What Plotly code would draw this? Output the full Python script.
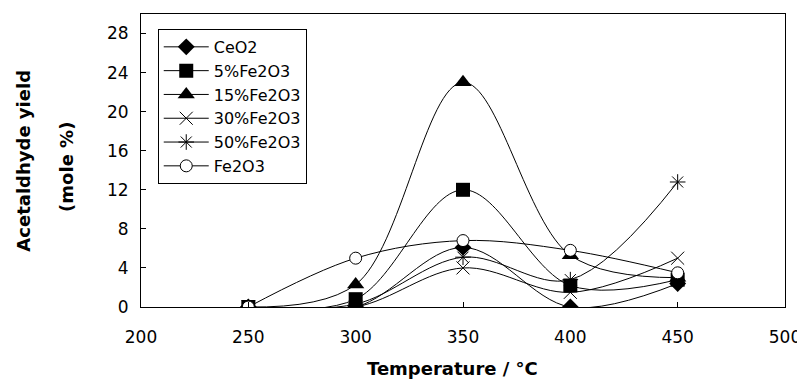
import plotly.graph_objects as go

temperature = [250, 300, 350, 400, 450]
series_names = ["CeO2", "5%Fe2O3", "15%Fe2O3", "30%Fe2O3", "50%Fe2O3", "Fe2O3"]
ceo2 = [0, 0, 6.1, 0, 2.4]
fe5 = [0, 0.8, 12.0, 2.2, 2.8]
fe15 = [0, 2.3, 23.0, 5.3, 3.0]
fe30 = [0, 0, 4.0, 1.5, 5.0]
fe50 = [0, 0.3, 5.1, 2.8, 12.8]
fe2o3 = [0, 5.0, 6.8, 5.8, 3.5]
x_ticks = [200, 250, 300, 350, 400, 450, 500]
y_ticks = [0, 4, 8, 12, 16, 20, 24, 28]

values = [ceo2, fe5, fe15, fe30, fe50, fe2o3]
markers = [
    dict(symbol="diamond", size=13, color="black"),
    dict(symbol="square", size=14, color="black"),
    dict(symbol="triangle-up", size=15, color="black"),
    dict(symbol="x-thin-open", size=13, color="black", line=dict(width=1, color="black")),
    dict(symbol="asterisk-open", size=13, color="black", line=dict(width=1, color="black")),
    dict(symbol="circle", size=12, color="white", line=dict(width=1, color="black")),
]

fig = go.Figure()
for name, vals, mk in zip(series_names, values, markers):
    fig.add_trace(go.Scatter(
        x=temperature, y=vals, name=name, mode="lines+markers",
        line=dict(color="black", width=1, shape="spline", smoothing=1.0),
        marker=mk,
    ))

# page body has an 8px margin, so the figure is drawn 8px in from the corner
tickfont = dict(family="DejaVu Sans", size=17, color="black")
fig.update_layout(
    width=797, height=373,
    margin=dict(l=133, r=20, t=6, b=74, autoexpand=False),
    paper_bgcolor="white", plot_bgcolor="white",
    showlegend=True,
    legend=dict(
        x=0.026, y=0.949, xanchor="left", yanchor="top",
        bordercolor="black", borderwidth=1, bgcolor="white",
        font=dict(family="DejaVu Sans", size=16, color="black"),
        tracegroupgap=0, itemwidth=45,
    ),
    xaxis=dict(
        range=[200, 500], tickmode="array", tickvals=x_ticks,
        ticks="inside", ticklen=5, tickcolor="black",
        showline=True, linecolor="black", linewidth=1, mirror=True,
        showgrid=False, zeroline=False, tickfont=tickfont,
        ticklabelstandoff=15, automargin=False,
    ),
    yaxis=dict(
        range=[0, 30], tickmode="array", tickvals=y_ticks,
        ticks="inside", ticklen=5, tickcolor="black",
        showline=True, linecolor="black", linewidth=1, mirror=True,
        showgrid=False, zeroline=False, tickfont=tickfont,
        ticklabelstandoff=8, automargin=False,
    ),
    annotations=[
        dict(text="<b>Acetaldhyde yield</b>", xref="paper", yref="paper",
             x=-0.183, y=0.50, xanchor="center", yanchor="middle",
             textangle=-90, showarrow=False,
             font=dict(family="DejaVu Sans", size=18, color="black")),
        dict(text="<b>(mole %)</b>", xref="paper", yref="paper",
             x=-0.115, y=0.478, xanchor="center", yanchor="middle",
             textangle=-90, showarrow=False,
             font=dict(family="DejaVu Sans", size=18, color="black")),
        dict(text="<b>Temperature / °C</b>", xref="paper", yref="paper",
             x=0.483, y=-0.21, xanchor="center", yanchor="middle",
             showarrow=False,
             font=dict(family="DejaVu Sans", size=18, color="black")),
    ],
)
fig.update_xaxes(tickprefix="<b>", ticksuffix="</b>")
fig.update_yaxes(tickprefix="<b>", ticksuffix="</b>\u00a0\u00a0")

fig.write_html("out.html")
